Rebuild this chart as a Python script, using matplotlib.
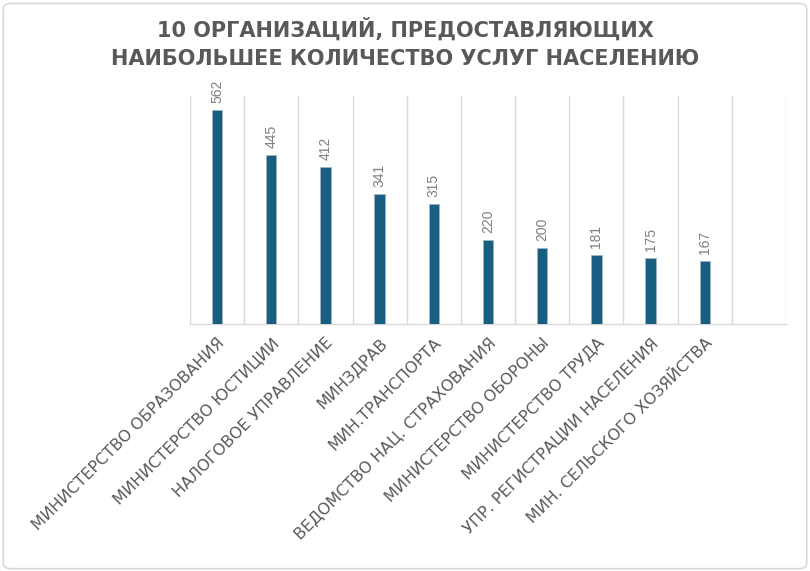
import matplotlib
matplotlib.use("Agg")
import matplotlib.pyplot as plt
from matplotlib.patches import FancyBboxPatch

categories = [
    "МИНИСТЕРСТВО ОБРАЗОВАНИЯ",
    "МИНИСТЕРСТВО ЮСТИЦИИ",
    "НАЛОГОВОЕ УПРАВЛЕНИЕ",
    "МИНЗДРАВ",
    "МИН.ТРАНСПОРТА",
    "ВЕДОМСТВО НАЦ. СТРАХОВАНИЯ",
    "МИНИСТЕРСТВО ОБОРОНЫ",
    "МИНИСТЕРСТВО ТРУДА",
    "УПР. РЕГИСТРАЦИИ НАСЕЛЕНИЯ",
    "МИН. СЕЛЬСКОГО ХОЗЯЙСТВА",
]
values = [562, 445, 412, 341, 315, 220, 200, 181, 175, 167]
title = "10 ОРГАНИЗАЦИЙ, ПРЕДОСТАВЛЯЮЩИХ\nНАИБОЛЬШЕЕ КОЛИЧЕСТВО УСЛУГ НАСЕЛЕНИЮ"

fig = plt.figure(figsize=(8.1, 5.71), dpi=100)
fig.patch.set_facecolor("white")
border = FancyBboxPatch((0.004, 0.004), 0.992, 0.99, boxstyle="round,pad=0,rounding_size=0.01",
                        transform=fig.transFigure, fill=False, edgecolor="#d9d9d9", linewidth=1.2)
fig.patches.append(border)

ax = fig.add_axes([190/810, 1 - 324/571, (786-190)/810, (324-96)/571])
n_slots = len(categories) + 1
x = list(range(len(categories)))
ax.bar(x, values, width=0.19, color="#175E80", edgecolor="#9fb3c4", linewidth=0.6, zorder=3)
ax.set_xlim(-0.5, n_slots - 0.5)
ax.set_ylim(0, 600)
for b in [i - 0.5 for i in range(n_slots + 1)]:
    ax.axvline(b, color="#d9d9d9", linewidth=1.0, zorder=1)
for s in ["top", "right", "left"]:
    ax.spines[s].set_visible(False)
ax.spines["bottom"].set_color("#d9d9d9")
ax.spines["bottom"].set_linewidth(1.0)
ax.set_yticks([])
ax.set_xticks(x)
ax.set_xticklabels(categories, rotation=45, ha="right", rotation_mode="anchor",
                   fontsize=11.5, color="#595959", family="DejaVu Sans")
ax.tick_params(axis="x", length=0, pad=8)

for xi, v in zip(x, values):
    ax.annotate(str(v), (xi, v), xytext=(0, 5), textcoords="offset points",
                rotation=90, ha="center", va="bottom", fontsize=10, color="#7f7f7f",
                family="Liberation Sans")

fig.text(0.5, 1 - 43/571, title, ha="center", va="center", fontsize=15, fontweight="bold",
         color="#595959", family="DejaVu Sans", linespacing=1.55)

fig.savefig("out.png", dpi=100, facecolor="white")
